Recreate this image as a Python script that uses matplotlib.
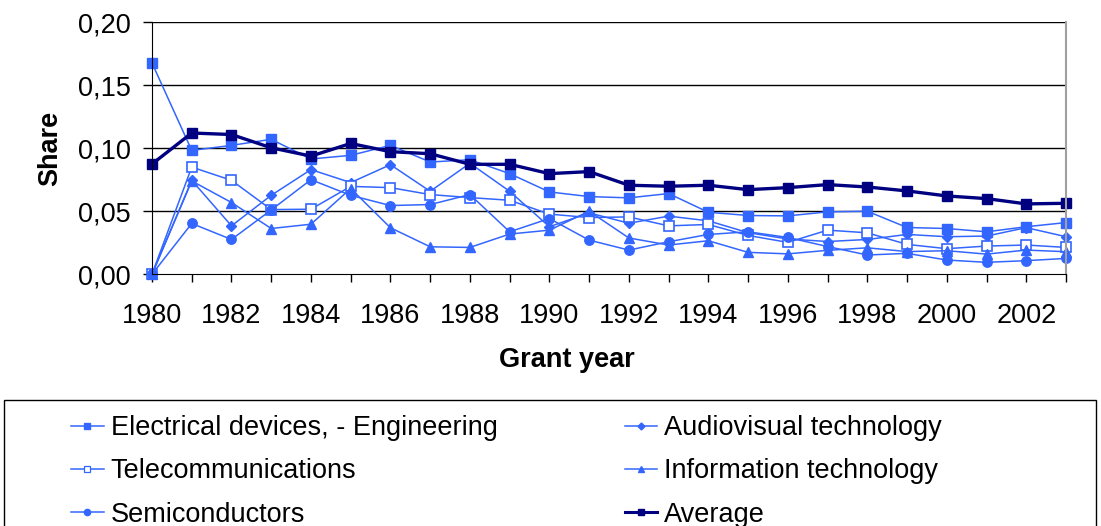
import matplotlib.pyplot as plt
import numpy as np
from matplotlib.lines import Line2D
from matplotlib.patches import Rectangle

plt.rcParams["font.family"] = ["Liberation Sans", "DejaVu Sans"]

years = np.arange(1980, 2004)

electrical = [0.1675, 0.0982, 0.1022, 0.107, 0.0914, 0.0943, 0.1022, 0.089,
              0.0908, 0.0798, 0.0653, 0.0616, 0.0606, 0.064, 0.0492, 0.0466,
              0.0463, 0.0495, 0.050, 0.0371, 0.0363, 0.0337, 0.0377, 0.041]
audiovisual = [0.0, 0.0745, 0.0384, 0.0626, 0.083, 0.0727, 0.0869, 0.0658,
               0.088, 0.0658, 0.0377, 0.0487, 0.0405, 0.0461, 0.0424, 0.033,
               0.028, 0.026, 0.0276, 0.0316, 0.0298, 0.0303, 0.037, 0.0298]
telecom = [0.0, 0.085, 0.0745, 0.0513, 0.0516, 0.0697, 0.0687, 0.0632,
           0.0608, 0.0587, 0.0477, 0.045, 0.0455, 0.0384, 0.0395, 0.0308,
           0.0253, 0.035, 0.0329, 0.0237, 0.0203, 0.0224, 0.0232, 0.0213]
info_tech = [0.0, 0.074, 0.0569, 0.0363, 0.0397, 0.068, 0.0369, 0.0218,
             0.0213, 0.0319, 0.035, 0.050, 0.0288, 0.0232, 0.0266, 0.0174,
             0.0162, 0.019, 0.021, 0.018, 0.0187, 0.016, 0.0192, 0.0179]
semiconductors = [0.0, 0.0403, 0.0276, 0.051, 0.075, 0.0626, 0.0545, 0.0553,
                  0.0632, 0.0337, 0.0442, 0.0271, 0.0192, 0.0258, 0.0316, 0.0337,
                  0.0292, 0.022, 0.0153, 0.0166, 0.0113, 0.0095, 0.0108, 0.0126]
average = [0.0874, 0.112, 0.1108, 0.1003, 0.0937, 0.1037, 0.0972, 0.0956,
           0.0872, 0.0872, 0.0798, 0.0814, 0.0706, 0.0698, 0.0706, 0.0671,
           0.0687, 0.0711, 0.0692, 0.0661, 0.0621, 0.060, 0.0558, 0.0563]

blue = "#3366FF"
navy = "#000080"
fs = 19.5

fig = plt.figure(figsize=(11.01, 5.26), dpi=100)
W, H = 1101, 526
ax = fig.add_axes([152 / W, (H - 274.3) / H, (1066 - 152) / W, (274.3 - 22) / H])

common = dict(color=blue, lw=1.1, clip_on=False)
ax.plot(years, electrical, marker="s", ms=6.8, **common)
ax.plot(years, audiovisual, marker="D", ms=5, **common)
ax.plot(years, telecom, marker="s", ms=6.8, mfc="white", mew=1.2, **common)
ax.plot(years, info_tech, marker="^", ms=7, **common)
ax.plot(years, semiconductors, marker="o", ms=6.8, **common)
ax.plot(years, average, color=navy, lw=2.4, marker="s", ms=7.2, clip_on=False)

ax.set_xlim(1980, 2003)
ax.set_ylim(0, 0.2)
ax.set_xticks(years)
ax.set_xticklabels([str(y) if y % 2 == 0 else "" for y in years])
ax.set_yticks([0, 0.05, 0.10, 0.15, 0.20])
ax.set_yticklabels(["0,00", "0,05", "0,10", "0,15", "0,20"])
ax.tick_params(axis="x", length=6, width=1, pad=14.5, labelsize=fs)
ax.tick_params(axis="y", length=6.5, width=1, pad=9, labelsize=fs)
for yv in [0.05, 0.10, 0.15, 0.20]:
    ax.axhline(yv, color="black", lw=1, zorder=0.5)
ax.spines["top"].set_visible(False)
ax.spines["right"].set_color("#A0A0A0")
ax.spines["right"].set_linewidth(1.5)

fig.text(50 / W, 1 - 148 / H, "Share", rotation=90, weight="bold",
         ha="center", va="center", fontsize=fs)
fig.text(567 / W, 1 - 360 / H, "Grant year", weight="bold",
         ha="center", va="center", fontsize=fs)

fig.add_artist(Rectangle((4 / W, -0.2), 1092 / W, (H - 400) / H + 0.2,
                         transform=fig.transFigure, fill=False,
                         edgecolor="black", lw=1))


def handle(marker, color=blue, ms=4.5, **kw):
    return Line2D([], [], color=color, marker=marker, ms=ms, lw=1.1, **kw)


handles = [
    handle("s"),
    handle("s", mfc="white", mew=0.9),
    handle("o"),
    handle("D", ms=3.5),
    handle("^"),
    Line2D([], [], color=navy, marker="s", ms=5, lw=2.2),
]
labels = ["Electrical devices, - Engineering", "Telecommunications",
          "Semiconductors", "Audiovisual technology",
          "Information technology", "Average"]
fig.legend(handles, labels, loc="upper left", bbox_to_anchor=(71 / W, 1 - 415 / H),
           ncol=2, frameon=False, fontsize=fs, handlelength=1.2,
           handletextpad=0.26, columnspacing=4.7, labelspacing=0.64,
           borderpad=0, borderaxespad=0)

fig.savefig("out.png", dpi=100)
